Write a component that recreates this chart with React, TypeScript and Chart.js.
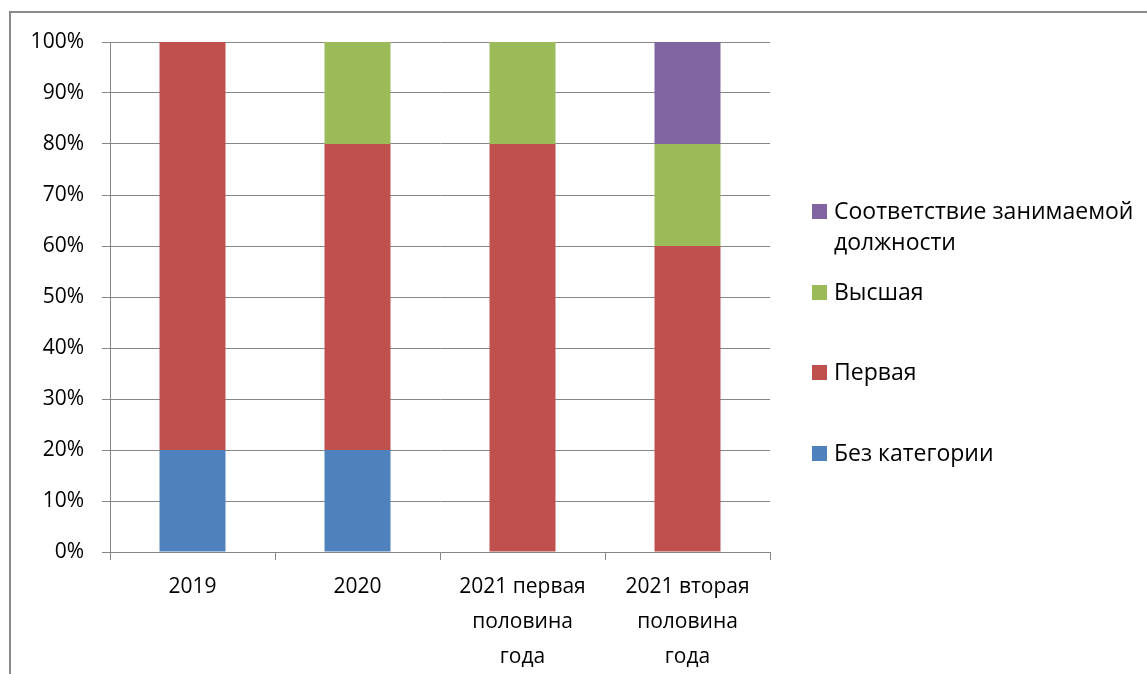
import React, { useEffect, useRef } from "react";
import { Chart, registerables } from "chart.js";

Chart.register(...registerables);

const categories: string[][] = [
  ["2019"],
  ["2020"],
  ["2021 первая", "половина", "года"],
  ["2021 вторая", "половина", "года"],
];

const seriesNames = ["Без категории", "Первая", "Высшая", "Соответствие занимаемой должности"];
const legendLines: string[][] = [
  ["Без категории"],
  ["Первая"],
  ["Высшая"],
  ["Соответствие занимаемой", "должности"],
];
const noCategoryValues = [20, 20, 0, 0];
const firstValues = [80, 60, 80, 60];
const highestValues = [0, 20, 20, 20];
const conformityValues = [0, 0, 0, 20];
const seriesColors = ["#4F81BD", "#C0504D", "#9BBB59", "#8064A2"];
const yMin = 0;
const yMax = 100;
const yStep = 10;

const FONT = "'Open Sans', 'Noto Sans', sans-serif";
const GRID = "#868686";

// legend marker vertical centres (layout), bottom-to-top series order
const legendCenters = [453, 372, 292, 211];

export default function App() {
  const canvasRef = useRef<HTMLCanvasElement | null>(null);

  useEffect(() => {
    if (!canvasRef.current) return;
    const values = [noCategoryValues, firstValues, highestValues, conformityValues];
    const chart = new Chart(canvasRef.current, {
      type: "bar",
      data: {
        labels: categories,
        datasets: seriesNames.map((name, i) => ({
          label: name,
          data: values[i],
          backgroundColor: seriesColors[i],
          borderWidth: 0,
          barPercentage: 0.4,
          categoryPercentage: 1,
        })),
      },
      options: {
        animation: false,
        responsive: true,
        maintainAspectRatio: false,
        layout: { padding: { left: 0, top: 42, right: 377, bottom: 0 } },
        plugins: { legend: { display: false }, tooltip: { enabled: false } },
        scales: {
          x: {
            stacked: true,
            afterFit: (s: any) => {
              s.height = 122;
            },
            grid: {
              display: true,
              drawOnChartArea: false,
              drawTicks: true,
              tickLength: 8,
              color: GRID,
              offset: true,
            },
            border: { display: true, color: GRID, width: 1 },
            ticks: {
              color: "#000",
              font: { family: FONT, size: 21, lineHeight: 1.67 },
              padding: 9,
              maxRotation: 0,
              autoSkip: false,
            },
          },
          y: {
            stacked: true,
            min: yMin,
            max: yMax,
            afterFit: (s: any) => {
              s.width = 110;
            },
            grid: {
              color: GRID,
              lineWidth: 1,
              drawTicks: true,
              tickLength: 8,
            },
            border: { display: true, color: GRID, width: 1 },
            ticks: {
              stepSize: yStep,
              color: "#000",
              font: { family: FONT, size: 21 },
              padding: 18,
              callback: (v: any) => `${v}%`,
            },
          },
        },
      },
    });
    return () => chart.destroy();
  }, []);

  return (
    <div
      style={{
        position: "fixed",
        left: 0,
        top: 0,
        width: 1147,
        height: 674,
        overflow: "hidden",
        background: "#fff",
        fontFamily: FONT,
      }}
    >
      <div
        style={{
          position: "absolute",
          left: 9,
          top: 11,
          width: 1300,
          height: 800,
          borderTop: "2px solid #8a8a8a",
          borderLeft: "2px solid #8a8a8a",
        }}
      />
      <div style={{ position: "absolute", left: 0, top: 0, width: 1147, height: 674 }}>
        <canvas ref={canvasRef} />
      </div>
      {legendLines.map((lines, i) => (
        <div
          key={i}
          style={{
            position: "absolute",
            left: 812,
            top: legendCenters[i] - 16,
            display: "flex",
            alignItems: "flex-start",
          }}
        >
          <div
            style={{
              width: 15,
              height: 15,
              background: seriesColors[i],
              marginTop: 8.5,
              marginRight: 7,
              flex: "none",
            }}
          />
          <div style={{ fontSize: 23, lineHeight: "31px", color: "#000", whiteSpace: "nowrap" }}>
            {lines.map((l, j) => (
              <div key={j}>{l}</div>
            ))}
          </div>
        </div>
      ))}
    </div>
  );
}
